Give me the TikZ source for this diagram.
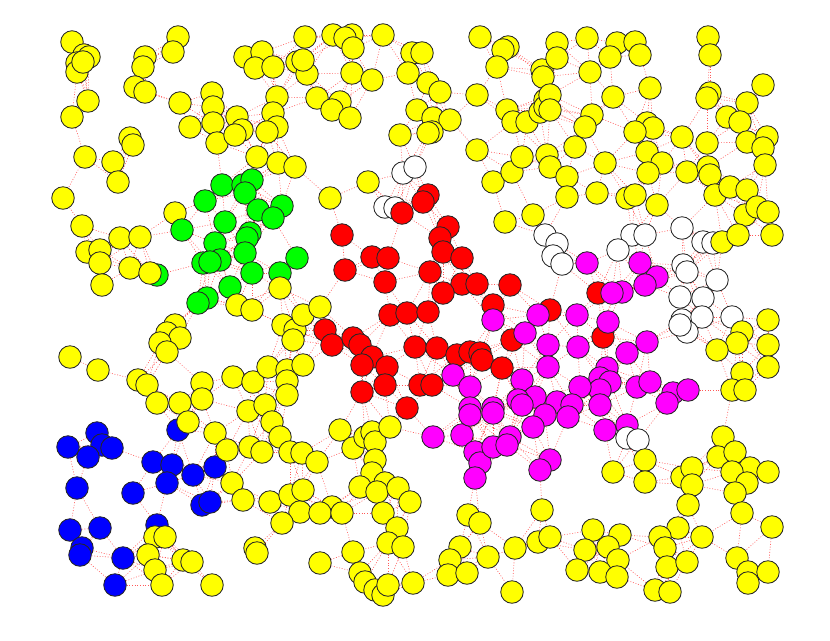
\documentclass[tikz,border=0pt]{standalone}
\usetikzlibrary{backgrounds}
\definecolor{Y}{RGB}{255,255,0}
\definecolor{G}{RGB}{0,255,0}
\definecolor{R}{RGB}{255,0,0}
\definecolor{B}{RGB}{0,0,255}
\definecolor{M}{RGB}{255,0,255}
\definecolor{W}{RGB}{255,255,255}
\newcount\jj \newcount\ddx \newcount\ddy
\begin{document}
\begin{tikzpicture}[x=0.75pt,y=-0.75pt,
  dot/.style={circle,draw=black!85,line width=0.65pt,minimum size=16.9pt,inner sep=0pt},
  edge/.style={draw=red!65,line width=0.45pt,dash pattern=on 0.7pt off 1.3pt}]
\useasboundingbox (0,0) rectangle (830,640);
\foreach \x/\y/\col [count=\i] in {
72/42/Y,84/55/Y,77/63/Y,89/57/Y,77/72/Y,83/62/Y,178/37/Y,173/52/Y,145/57/Y,143/67/Y,135/87/Y,145/92/Y,88/101/Y,72/117/Y,180/103/Y,
212/93/Y,213/107/Y,190/127/Y,213/123/Y,217/143/Y,237/117/Y,242/130/Y,235/135/Y,245/57/Y,262/52/Y,255/68/Y,273/67/Y,297/62/Y,305/37/Y,307/74/Y,
277/97/Y,273/113/Y,277/127/Y,267/132/Y,257/157/Y,278/163/Y,295/167/Y,130/138/Y,133/145/Y,85/157/Y,113/162/Y,118/182/Y,63/198/Y,82/226/Y,175/213/Y,
222/185/G,243/185/G,252/180/G,245/193/G,205/201/G,258/210/G,282/206/G,273/218/G,225/222/G,182/230/G,250/233/G,247/238/G,215/243/G,220/260/G,
203/263/G,210/262/G,245/253/G,252/273/G,280/273/G,230/287/G,207/298/G,198/303/G,297/258/G,157/275/G,
120/238/Y,140/237/Y,87/252/Y,100/250/Y,100/263/Y,102/285/Y,130/268/Y,150/273/Y,237/305/Y,252/310/Y,280/288/Y,283/325/Y,295/330/Y,293/340/Y,
303/315/Y,320/307/Y,175/325/Y,167/333/Y,180/338/Y,160/343/Y,167/352/Y,70/357/Y,98/370/Y,138/380/Y,147/385/Y,202/383/Y,202/399/Y,157/403/Y,
180/403/Y,233/377/Y,253/382/Y,268/367/Y,287/370/Y,287/381/Y,287/395/Y,303/365/Y,248/411/Y,265/405/Y,
68/447/B,97/433/B,102/445/B,112/448/B,88/457/B,77/488/B,70/530/B,100/528/B,82/548/B,80/555/B,123/558/B,115/585/B,133/493/B,153/462/B,
172/465/B,167/483/B,193/475/B,215/467/B,202/505/B,210/502/B,157/525/B,178/430/B,
188/422/Y,272/422/Y,280/437/Y,215/433/Y,227/450/Y,250/447/Y,262/452/Y,290/452/Y,302/453/Y,232/483/Y,243/500/Y,270/502/Y,290/495/Y,300/512/Y,
282/523/Y,303/490/Y,255/548/Y,257/553/Y,155/537/Y,165/537/Y,148/555/Y,155/570/Y,162/585/Y,183/560/Y,192/562/Y,212/585/Y,
333/35/Y,352/35/Y,345/38/Y,353/48/Y,383/35/Y,303/60/Y,352/73/Y,372/80/Y,412/53/Y,422/53/Y,408/73/Y,428/83/Y,440/92/Y,317/98/Y,340/102/Y,
332/110/Y,350/118/Y,417/110/Y,433/118/Y,450/120/Y,432/132/Y,428/133/Y,400/135/Y,480/37/Y,477/95/Y,508/47/Y,503/50/Y,497/67/Y,507/110/Y,
513/122/Y,527/122/Y,540/112/Y,545/100/Y,545/107/Y,542/70/Y,543/77/Y,557/43/Y,557/58/Y,477/150/Y,493/182/Y,512/172/Y,522/157/Y,547/155/Y,
550/167/Y,505/222/Y,533/215/Y,368/182/Y,330/198/Y,
403/173/W,415/167/W,385/207/W,395/208/W,
587/38/Y,617/43/Y,635/42/Y,640/55/Y,610/57/Y,590/72/Y,650/88/Y,613/97/Y,708/37/Y,710/55/Y,710/93/Y,707/98/Y,763/85/Y,747/103/Y,727/117/Y,
740/122/Y,747/142/Y,767/137/Y,763/148/Y,765/165/Y,592/115/Y,585/127/Y,550/95/Y,550/110/Y,647/123/Y,653/128/Y,635/132/Y,682/137/Y,707/143/Y,
575/147/Y,605/163/Y,647/152/Y,662/163/Y,648/173/Y,687/172/Y,708/167/Y,710/175/Y,567/177/Y,567/197/Y,597/193/Y,627/198/Y,635/195/Y,657/205/Y,
715/195/Y,730/187/Y,747/190/Y,745/215/Y,757/207/Y,768/212/Y,
342/235/R,372/257/R,388/258/R,345/270/R,385/282/R,448/227/R,440/238/R,443/252/R,462/258/R,430/272/R,462/284/R,477/284/R,443/293/R,510/285/R,
493/305/R,390/315/R,407/313/R,428/312/R,325/330/R,332/345/R,353/338/R,360/345/R,372/357/R,362/365/R,387/367/R,385/385/R,362/392/R,415/347/R,
437/348/R,457/355/R,470/352/R,480/353/R,482/360/R,502/368/R,512/340/R,550/310/R,420/385/R,432/385/R,407/408/R,428/195/R,423/202/R,402/213/R,
598/293/R,603/337/R,
493/320/M,538/315/M,525/333/M,548/345/M,548/367/M,453/375/M,470/387/M,522/380/M,535/397/M,518/400/M,493/408/M,470/408/M,587/263/M,640/263/M,
657/277/M,645/285/M,622/292/M,612/293/M,577/315/M,608/322/M,647/342/M,627/353/M,578/347/M,607/368/M,600/378/M,610/382/M,600/390/M,580/387/M,
637/387/M,650/382/M,673/393/M,688/390/M,667/403/M,557/402/M,572/405/M,600/405/M,
545/235/W,557/244/W,553/256/W,562/264/W,632/235/W,645/235/W,618/250/W,682/228/W,703/242/W,713/243/W,683/265/W,687/272/W,717/280/W,680/297/W,
703/298/W,682/320/W,702/317/W,687/332/W,732/317/W,680/325/W,
722/242/Y,738/235/Y,772/235/Y,768/320/Y,742/332/Y,737/343/Y,717/350/Y,768/345/Y,768/367/Y,742/373/Y,732/390/Y,745/390/Y,
433/437/M,462/435/M,470/415/M,493/413/M,475/452/M,480/463/M,475/478/M,493/447/M,510/437/M,507/445/M,522/405/M,545/415/M,533/427/M,550/460/M,
540/470/M,568/417/M,605/430/M,627/425/M,
340/430/Y,353/448/Y,365/437/Y,372/432/Y,375/442/Y,390/427/Y,317/462/Y,375/460/Y,372/473/Y,385/483/Y,360/487/Y,377/492/Y,398/488/Y,410/502/Y,
332/507/Y,320/513/Y,342/513/Y,383/513/Y,397/528/Y,388/543/Y,403/547/Y,353/552/Y,320/563/Y,360/573/Y,365/582/Y,375/590/Y,383/595/Y,388/585/Y,
413/583/Y,468/515/Y,480/523/Y,460/547/Y,450/560/Y,448/575/Y,467/573/Y,488/557/Y,515/548/Y,512/592/Y,542/510/Y,538/542/Y,550/537/Y,
627/438/W,638/440/W,
613/472/Y,645/460/Y,645/482/Y,723/437/Y,718/457/Y,735/452/Y,750/468/Y,768/472/Y,732/472/Y,747/483/Y,735/493/Y,682/477/Y,692/468/Y,692/485/Y,
688/505/Y,742/513/Y,772/527/Y,678/528/Y,660/537/Y,665/548/Y,667/567/Y,687/562/Y,702/537/Y,655/590/Y,670/592/Y,593/530/Y,620/535/Y,585/550/Y,
608/547/Y,618/560/Y,577/570/Y,600/572/Y,617/577/Y,737/558/Y,748/572/Y,768/572/Y,748/583/Y}{
  \node[dot,fill=\col] (n\i) at (\x,\y) {};
  \expandafter\xdef\csname px\i\endcsname{\x}%
  \expandafter\xdef\csname py\i\endcsname{\y}%
  \xdef\Ntot{\i}%
}
\begin{pgfonlayer}{background}
\pgfmathtruncatemacro\Ntotp{\Ntot+1}
\foreach \i in {1,...,\Ntot}{%
  \jj=\i\relax
  \loop
    \advance\jj by 1\relax
  \ifnum\jj<\Ntotp\relax
    \edef\jn{\number\jj}%
    \ddx=\numexpr\csname px\i\endcsname-\csname px\jn\endcsname\relax
    \ddy=\numexpr\csname py\i\endcsname-\csname py\jn\endcsname\relax
    \ifnum\numexpr\ddx*\ddx+\ddy*\ddy\relax<2304\relax
      \draw[edge] (n\i) -- (n\jn);
    \fi
  \repeat
}
\end{pgfonlayer}
\end{tikzpicture}
\end{document}
